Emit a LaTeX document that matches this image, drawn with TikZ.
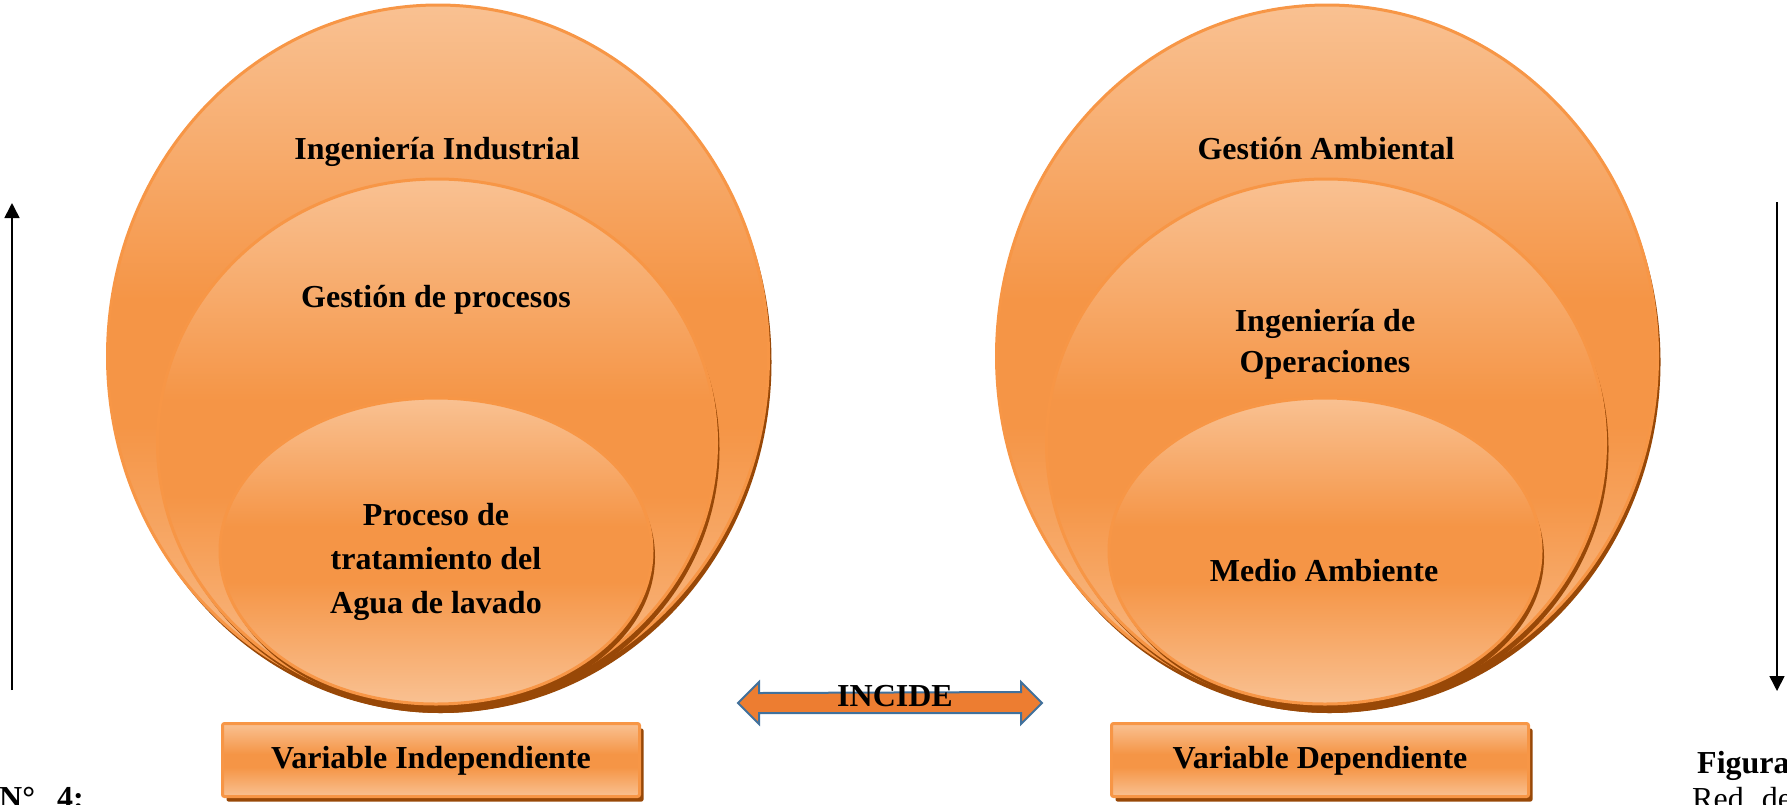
\documentclass[tikz,border=0pt]{standalone}
\usepackage{fontspec}
\setmainfont{Liberation Serif}
\usetikzlibrary{shapes.geometric,shadows,arrows.meta}

\definecolor{orLight}{RGB}{249,193,146}
\definecolor{orDark}{RGB}{245,149,70}
\definecolor{orLine}{RGB}{247,150,70}
\definecolor{orShadow}{RGB}{152,72,7}
\definecolor{arrFill}{RGB}{237,125,49}
\definecolor{arrLine}{RGB}{65,113,156}

% light - dark - light, the path box maps to 25bp..75bp
\pgfdeclareverticalshading{orgrad}{100bp}{%
  color(0bp)=(orLight); color(25bp)=(orLight);
  color(45bp)=(orDark); color(54bp)=(orDark);
  color(75bp)=(orLight); color(100bp)=(orLight)}

\tikzset{
  ring/.style={ellipse, inner sep=0pt, draw=orLine, line width=3pt,
    shade, shading=orgrad,
    drop shadow={shadow xshift=3pt, shadow yshift=-6pt, fill=orShadow, opacity=1}},
  varbox/.style={rectangle, rounded corners=2pt, inner sep=0pt, draw=orLine, line width=3pt,
    shade, shading=orgrad, minimum width=417pt, minimum height=73pt,
    drop shadow={shadow xshift=4pt, shadow yshift=-5pt, fill=orShadow, opacity=1}},
  lbl/.style={font=\fontsize{32}{44}\selectfont\bfseries, inner sep=0pt, align=center},
  plain/.style={font=\fontsize{32}{44}\selectfont, inner sep=0pt},
  incide/.style={fill=arrFill, draw=arrLine, line width=2pt, line join=miter},
  vline/.style={line width=1.6pt, -{Triangle[width=15pt,length=15pt]}}
}

\begin{document}
\begin{tikzpicture}[x=1pt, y=-1pt]
\useasboundingbox (0,0) rectangle (1787,804);

% ---- independent variable: nested ellipses ----
\node[ring, minimum width=661pt, minimum height=702pt] (outL) at (438,356) {};
\node[ring, minimum width=559pt, minimum height=528pt] (midL) at (437,443) {};
\node[ring, minimum width=432pt, minimum height=306pt] (inL) at (436,551) {};

\node[lbl, anchor=base] (tIndus) at (437,159) {Ingeniería Industrial};
\node[lbl, anchor=base] (tGestP) at (436,307) {Gestión de procesos};
\node[lbl, anchor=center] (tProc) at (436,562) {Proceso de\\tratamiento del\\Agua de lavado};

\node[varbox] (boxL) at (431,760) {};
\node[lbl, anchor=base] (tVarI) at (431,768) {Variable Independiente};

% ---- dependent variable: nested ellipses ----
\node[ring, minimum width=661pt, minimum height=702pt] (outR) at (1327,356) {};
\node[ring, minimum width=559pt, minimum height=528pt] (midR) at (1326,443) {};
\node[ring, minimum width=432pt, minimum height=306pt] (inR) at (1325,551) {};

\node[lbl, anchor=base] (tGestA) at (1326,159) {Gestión Ambiental};
\node[lbl, anchor=center, font=\fontsize{32}{41}\selectfont\bfseries] (tOper) at (1325,344) {Ingeniería de\\Operaciones};
\node[lbl, anchor=base] (tMedio) at (1324,581) {Medio Ambiente};

\node[varbox] (boxR) at (1320,760) {};
\node[lbl, anchor=base] (tVarD) at (1320,768) {Variable Dependiente};

% ---- block double arrow between the two variables ----
\coordinate (incL) at (738,703);
\coordinate (incR) at (1042,703);
\draw[incide] (incL) -- ++(21,-21) -- ++(0,11) -- (1021,692) -- ++(0,-10)
  -- (incR) -- ++(-21,21) -- ++(0,-11) -- (759,713) -- ++(0,11) -- cycle;
\node[lbl, anchor=base] (tInc) at (895,706) {INCIDE};

% ---- side arrows ----
\coordinate (upS) at (12,690);
\coordinate (upE) at (12,203);
\draw[vline] (upS) -- (upE);
\coordinate (dnS) at (1777,202);
\coordinate (dnE) at (1777,691);
\draw[vline] (dnS) -- (dnE);

% ---- caption fragments at the page edges ----
\node[lbl, anchor=base west] (tNum) at (-1,808) {N°\hspace{14pt} 4:};
\node[lbl, anchor=base west] (tFig) at (1697,773) {Figura};
\node[plain, anchor=base west] (tRed) at (1692,809) {Red\hspace{10pt} de};
\end{tikzpicture}
\end{document}
